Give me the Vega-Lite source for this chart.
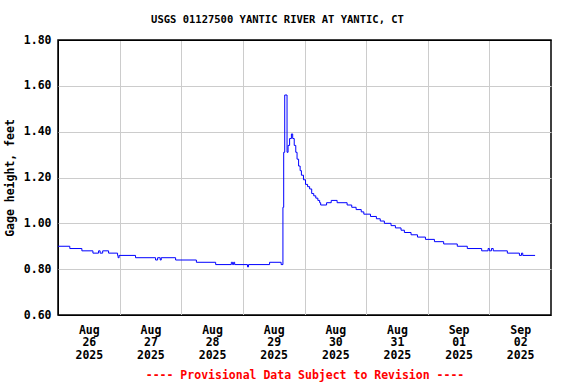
{
  "$schema": "https://vega.github.io/schema/vega-lite/v6.json",
  "autosize": "none",
  "width": 493,
  "height": 275,
  "padding": {"left": 58, "top": 40, "right": 25, "bottom": 69},
  "background": "white",
  "title": {
    "text": "USGS 01127500 YANTIC RIVER AT YANTIC, CT",
    "font": "DejaVu Sans Mono",
    "fontSize": 10.5,
    "fontWeight": "bold",
    "color": "black",
    "anchor": "middle",
    "dx": -27,
    "offset": 9
  },
  "config": {
    "view": {"stroke": "black", "strokeWidth": 1.5},
    "axis": {
      "labelFont": "DejaVu Sans Mono",
      "labelFontWeight": "bold",
      "labelFontSize": 11.5,
      "labelColor": "black",
      "titleFont": "DejaVu Sans Mono",
      "titleFontWeight": "bold",
      "titleFontSize": 11.5,
      "titleColor": "black",
      "gridWidth": 1,
      "gridOpacity": 1,
      "domain": false,
      "ticks": false
    }
  },
  "data": {
    "values": [
      {"time": "2025-08-26T00:00", "gage": 0.90},
      {"time": "2025-08-26T04:36", "gage": 0.89},
      {"time": "2025-08-26T09:18", "gage": 0.88},
      {"time": "2025-08-26T13:36", "gage": 0.87},
      {"time": "2025-08-26T15:48", "gage": 0.88},
      {"time": "2025-08-26T16:24", "gage": 0.87},
      {"time": "2025-08-26T17:24", "gage": 0.88},
      {"time": "2025-08-26T19:42", "gage": 0.87},
      {"time": "2025-08-26T23:12", "gage": 0.86},
      {"time": "2025-08-26T23:24", "gage": 0.85},
      {"time": "2025-08-26T23:48", "gage": 0.86},
      {"time": "2025-08-27T06:12", "gage": 0.85},
      {"time": "2025-08-27T14:00", "gage": 0.84},
      {"time": "2025-08-27T14:48", "gage": 0.85},
      {"time": "2025-08-27T15:48", "gage": 0.84},
      {"time": "2025-08-27T16:12", "gage": 0.85},
      {"time": "2025-08-27T21:48", "gage": 0.84},
      {"time": "2025-08-28T05:54", "gage": 0.83},
      {"time": "2025-08-28T13:24", "gage": 0.82},
      {"time": "2025-08-28T19:30", "gage": 0.83},
      {"time": "2025-08-28T20:00", "gage": 0.82},
      {"time": "2025-08-28T20:24", "gage": 0.83},
      {"time": "2025-08-28T20:48", "gage": 0.82},
      {"time": "2025-08-29T01:48", "gage": 0.81},
      {"time": "2025-08-29T02:12", "gage": 0.82},
      {"time": "2025-08-29T10:24", "gage": 0.83},
      {"time": "2025-08-29T14:54", "gage": 0.82},
      {"time": "2025-08-29T15:36", "gage": 1.07},
      {"time": "2025-08-29T15:54", "gage": 1.31},
      {"time": "2025-08-29T16:18", "gage": 1.56},
      {"time": "2025-08-29T17:12", "gage": 1.31},
      {"time": "2025-08-29T17:36", "gage": 1.34},
      {"time": "2025-08-29T18:12", "gage": 1.37},
      {"time": "2025-08-29T18:54", "gage": 1.39},
      {"time": "2025-08-29T19:24", "gage": 1.37},
      {"time": "2025-08-29T20:00", "gage": 1.34},
      {"time": "2025-08-29T20:36", "gage": 1.31},
      {"time": "2025-08-29T21:06", "gage": 1.28},
      {"time": "2025-08-29T21:42", "gage": 1.25},
      {"time": "2025-08-29T22:18", "gage": 1.23},
      {"time": "2025-08-29T22:48", "gage": 1.21},
      {"time": "2025-08-29T23:36", "gage": 1.19},
      {"time": "2025-08-30T00:24", "gage": 1.17},
      {"time": "2025-08-30T01:12", "gage": 1.16},
      {"time": "2025-08-30T02:00", "gage": 1.15},
      {"time": "2025-08-30T02:48", "gage": 1.13},
      {"time": "2025-08-30T03:36", "gage": 1.12},
      {"time": "2025-08-30T04:24", "gage": 1.11},
      {"time": "2025-08-30T05:12", "gage": 1.10},
      {"time": "2025-08-30T05:54", "gage": 1.09},
      {"time": "2025-08-30T06:18", "gage": 1.08},
      {"time": "2025-08-30T08:36", "gage": 1.09},
      {"time": "2025-08-30T10:24", "gage": 1.10},
      {"time": "2025-08-30T12:42", "gage": 1.09},
      {"time": "2025-08-30T16:36", "gage": 1.08},
      {"time": "2025-08-30T18:24", "gage": 1.07},
      {"time": "2025-08-30T20:06", "gage": 1.06},
      {"time": "2025-08-30T22:06", "gage": 1.05},
      {"time": "2025-08-30T23:06", "gage": 1.04},
      {"time": "2025-08-31T01:42", "gage": 1.03},
      {"time": "2025-08-31T04:00", "gage": 1.02},
      {"time": "2025-08-31T05:30", "gage": 1.01},
      {"time": "2025-08-31T07:06", "gage": 1.00},
      {"time": "2025-08-31T09:42", "gage": 0.99},
      {"time": "2025-08-31T11:24", "gage": 0.98},
      {"time": "2025-08-31T13:36", "gage": 0.97},
      {"time": "2025-08-31T14:54", "gage": 0.96},
      {"time": "2025-08-31T17:30", "gage": 0.95},
      {"time": "2025-08-31T20:00", "gage": 0.94},
      {"time": "2025-08-31T23:06", "gage": 0.93},
      {"time": "2025-09-01T02:36", "gage": 0.92},
      {"time": "2025-09-01T06:12", "gage": 0.91},
      {"time": "2025-09-01T11:30", "gage": 0.90},
      {"time": "2025-09-01T15:24", "gage": 0.89},
      {"time": "2025-09-01T21:00", "gage": 0.88},
      {"time": "2025-09-01T23:30", "gage": 0.89},
      {"time": "2025-09-02T00:00", "gage": 0.88},
      {"time": "2025-09-02T00:48", "gage": 0.89},
      {"time": "2025-09-02T01:30", "gage": 0.88},
      {"time": "2025-09-02T07:00", "gage": 0.87},
      {"time": "2025-09-02T11:42", "gage": 0.86},
      {"time": "2025-09-02T12:30", "gage": 0.87},
      {"time": "2025-09-02T13:00", "gage": 0.86},
      {"time": "2025-09-02T17:48", "gage": 0.86}
    ]
  },
  "mark": {"type": "line", "interpolate": "step-after", "color": "#0000ff", "strokeWidth": 1},
  "encoding": {
    "x": {
      "field": "time",
      "type": "temporal",
      "scale": {
        "domain": [
          {"year": 2025, "month": 8, "date": 26},
          {"year": 2025, "month": 9, "date": 3}
        ]
      },
      "axis": {
        "title": "---- Provisional Data Subject to Revision ----",
        "titleColor": "#ff0000",
        "titlePadding": 8,
        "values": [
          {"year": 2025, "month": 8, "date": 26},
          {"year": 2025, "month": 8, "date": 27},
          {"year": 2025, "month": 8, "date": 28},
          {"year": 2025, "month": 8, "date": 29},
          {"year": 2025, "month": 8, "date": 30},
          {"year": 2025, "month": 8, "date": 31},
          {"year": 2025, "month": 9, "date": 1},
          {"year": 2025, "month": 9, "date": 2}
        ],
        "labelExpr": "[timeFormat(datum.value, '%b'), timeFormat(datum.value, '%d'), timeFormat(datum.value, '%Y')]",
        "labelOffset": 30.8,
        "labelLineHeight": 12.8,
        "labelBaseline": "top",
        "labelPadding": 9,
        "labelFlush": false,
        "labelOverlap": false,
        "labelBound": false,
        "grid": true,
        "gridColor": {"condition": {"test": "datum.index == 0", "value": "black"}, "value": "#cccccc"}
      }
    },
    "y": {
      "field": "gage",
      "type": "quantitative",
      "scale": {"domain": [0.6, 1.8], "zero": false, "nice": false},
      "axis": {
        "title": "Gage height, feet",
        "values": [0.6, 0.8, 1.0, 1.2, 1.4, 1.6, 1.8],
        "format": ".2f",
        "labelPadding": 7,
        "titlePadding": 8,
        "grid": true,
        "gridColor": {"condition": {"test": "datum.value < 0.7 || datum.value > 1.7", "value": "black"}, "value": "#cccccc"}
      }
    }
  }
}
